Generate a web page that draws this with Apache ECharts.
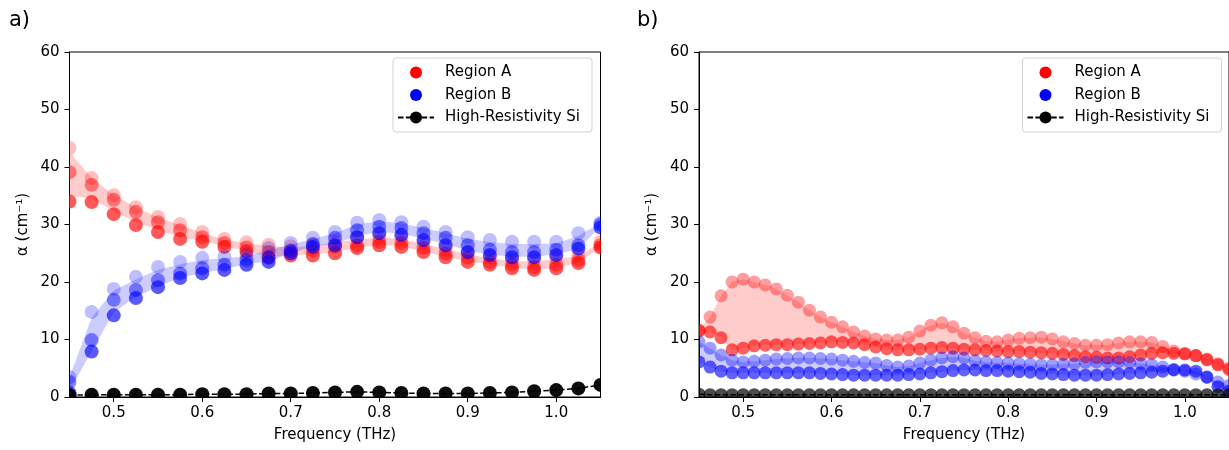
<!DOCTYPE html>
<html>
<head>
<meta charset="utf-8">
<script src="https://cdn.jsdelivr.net/npm/echarts@6/dist/echarts.min.js"></script>
<style>
  html, body { margin: 0; padding: 0; background: #fff; }
  #chart { width: 1229px; height: 450px; }
</style>
</head>
<body>
<div id="chart"></div>
<script>
// ---- panel a) : 0.025 THz sampling, three measurements per region ----
const freqA = [0.45, 0.475, 0.5, 0.525, 0.55, 0.575, 0.6, 0.625, 0.65, 0.675, 0.7, 0.725, 0.75,
  0.775, 0.8, 0.825, 0.85, 0.875, 0.9, 0.925, 0.95, 0.975, 1.0, 1.025, 1.05];

const regionA_a1 = [43.3, 38.1, 35.1, 33.0, 31.3, 30.1, 28.7, 27.5, 26.9, 26.5, 26.2, 26.5, 27.0,
  27.7, 27.8, 27.7, 26.8, 25.9, 25.0, 24.3, 23.8, 23.8, 24.2, 24.7, 27.0];
const regionA_a2 = [39.1, 36.9, 34.3, 32.2, 30.4, 29.0, 27.8, 26.8, 26.0, 25.2, 25.3, 25.5, 26.1,
  26.4, 27.0, 26.8, 25.9, 25.0, 24.2, 23.5, 23.0, 22.6, 23.0, 23.8, 26.4];
const regionA_a3 = [34.0, 33.9, 31.8, 29.9, 28.7, 27.5, 27.0, 26.1, 25.3, 24.2, 24.6, 24.6, 25.0,
  25.9, 26.4, 26.1, 25.2, 24.3, 23.5, 23.0, 22.4, 22.1, 22.4, 23.3, 26.0];

const regionB_a1 = [3.5, 14.8, 18.8, 20.9, 22.6, 23.5, 24.2, 24.4, 24.7, 25.9, 26.8, 27.7, 28.7,
  30.3, 30.8, 30.4, 29.6, 28.7, 27.8, 27.3, 27.0, 27.0, 27.0, 28.5, 30.3];
const regionB_a2 = [2.6, 9.9, 16.9, 18.6, 20.3, 21.5, 22.4, 23.0, 23.8, 24.3, 25.5, 26.6, 27.7,
  29.0, 29.6, 29.4, 28.5, 27.7, 26.4, 25.6, 25.2, 25.2, 25.6, 26.4, 30.0];
const regionB_a3 = [0.7, 7.9, 14.2, 17.2, 19.1, 20.7, 21.5, 22.1, 23.0, 23.5, 25.0, 26.1, 26.4,
  27.8, 28.5, 28.2, 27.3, 26.4, 25.2, 24.7, 24.3, 24.3, 24.7, 25.8, 29.5];

const siA = [0.3, 0.4, 0.4, 0.4, 0.4, 0.4, 0.5, 0.5, 0.5, 0.6, 0.6, 0.7, 0.8,
  0.9, 0.8, 0.7, 0.6, 0.6, 0.6, 0.7, 0.8, 1.0, 1.2, 1.5, 2.1];

// ---- panel b) : 0.0125 THz sampling, two measurements per region ----
const freqB = [0.45, 0.4625, 0.475, 0.4875, 0.5, 0.5125, 0.525, 0.5375, 0.55, 0.5625,
  0.575, 0.5875, 0.6, 0.6125, 0.625, 0.6375, 0.65, 0.6625, 0.675, 0.6875,
  0.7, 0.7125, 0.725, 0.7375, 0.75, 0.7625, 0.775, 0.7875, 0.8, 0.8125,
  0.825, 0.8375, 0.85, 0.8625, 0.875, 0.8875, 0.9, 0.9125, 0.925, 0.9375,
  0.95, 0.9625, 0.975, 0.9875, 1.0, 1.0125, 1.025, 1.0375, 1.05];

const regionA_b1 = [11.5, 13.9, 17.6, 20.0, 20.5, 20.0, 19.5, 18.8, 17.7, 16.5,
  15.1, 13.9, 13.0, 12.2, 11.3, 10.6, 10.1, 9.9, 9.9, 10.4,
  11.5, 12.5, 12.9, 12.2, 11.1, 10.3, 9.7, 9.6, 9.9, 10.2,
  10.3, 10.4, 10.1, 9.6, 9.3, 9.0, 9.0, 9.1, 9.4, 9.6,
  9.6, 9.5, 8.8, 8.0, 7.6, 7.2, 6.6, 5.8, 5.0];
const regionA_b2 = [11.6, 11.3, 10.3, 8.2, 8.5, 8.9, 9.0, 9.1, 9.1, 9.2,
  9.3, 9.4, 9.6, 9.5, 9.4, 9.1, 8.7, 8.4, 8.2, 8.2,
  8.3, 8.5, 8.6, 8.5, 8.3, 8.2, 8.1, 8.0, 7.9, 7.9,
  7.8, 7.7, 7.6, 7.4, 7.2, 7.0, 6.9, 6.8, 6.8, 7.0,
  7.3, 7.6, 7.7, 7.6, 7.5, 7.2, 6.5, 5.6, 4.8];

const regionB_b1 = [9.6, 8.5, 7.3, 6.4, 6.1, 6.2, 6.4, 6.6, 6.7, 6.8,
  6.8, 6.7, 6.6, 6.4, 6.2, 6.0, 5.9, 5.5, 5.2, 5.4,
  5.9, 6.4, 6.8, 7.0, 6.8, 6.3, 6.1, 6.0, 5.9, 5.8,
  5.7, 5.6, 5.6, 5.7, 5.8, 6.0, 6.1, 6.1, 6.1, 6.0,
  5.8, 5.6, 5.2, 4.8, 4.5, 4.0, 3.4, 2.6, 2.0];
const regionB_b2 = [6.1, 5.2, 4.5, 4.2, 4.2, 4.2, 4.2, 4.2, 4.2, 4.2,
  4.2, 4.1, 4.0, 3.9, 3.8, 3.8, 3.8, 3.8, 3.8, 3.9,
  4.0, 4.2, 4.4, 4.6, 4.7, 4.7, 4.6, 4.6, 4.5, 4.4,
  4.3, 4.1, 4.0, 3.9, 3.8, 3.8, 3.8, 3.9, 4.0, 4.1,
  4.2, 4.3, 4.5, 4.7, 4.7, 4.5, 3.5, 1.8, 1.0];

const siB = [0.5, 0.4, 0.4, 0.4, 0.4, 0.4, 0.4, 0.4, 0.4, 0.4,
  0.4, 0.4, 0.4, 0.4, 0.4, 0.4, 0.4, 0.4, 0.4, 0.4,
  0.4, 0.4, 0.4, 0.4, 0.4, 0.4, 0.4, 0.4, 0.4, 0.4,
  0.4, 0.4, 0.4, 0.4, 0.4, 0.4, 0.4, 0.4, 0.4, 0.4,
  0.4, 0.4, 0.4, 0.4, 0.4, 0.4, 0.4, 0.4, 0.4];

// ---- axes ----
const xTicks = [0.5, 0.6, 0.7, 0.8, 0.9, 1.0];
const xLabels = ['0.5', '0.6', '0.7', '0.8', '0.9', '1.0'];
const yMin = 0, yMax = 60, yStep = 10;
const seriesNames = ['Region A', 'Region B', 'High-Resistivity Si'];
const panelTags = ['a)', 'b)'];

const FONT = '"DejaVu Sans", sans-serif';
const RED = '255,0,0', BLUE = '0,0,255', BLACK = '0,0,0';

// circles drawn through the axes, clipped to the plot area
function dots(name, gi, xs, ys, rgb, alpha, r) {
  return {
    type: 'custom', name, xAxisIndex: gi, yAxisIndex: gi, clip: true, silent: true,
    itemStyle: { color: 'rgb(' + rgb + ')' },
    data: xs.map((x, i) => [x, ys[i]]),
    renderItem: (params, api) => {
      const p = api.coord([api.value(0), api.value(1)]);
      return { type: 'circle', shape: { cx: p[0], cy: p[1], r },
        style: { fill: 'rgba(' + rgb + ',' + alpha + ')' } };
    }
  };
}

// shaded spread (mean ± std of the measurements)
function band(name, gi, xs, sets, rgb, alpha) {
  const n = sets.length;
  const mean = xs.map((_, i) => sets.reduce((s, a) => s + a[i], 0) / n);
  const sd = xs.map((_, i) => Math.sqrt(sets.reduce((s, a) => s + (a[i] - mean[i]) ** 2, 0) / n));
  return {
    type: 'custom', name, xAxisIndex: gi, yAxisIndex: gi, clip: true, silent: true,
    itemStyle: { color: 'rgb(' + rgb + ')' },
    data: [[xs[0], mean[0]]],
    renderItem: (params, api) => {
      const pts = [];
      xs.forEach((x, i) => pts.push(api.coord([x, mean[i] + sd[i]])));
      for (let i = xs.length - 1; i >= 0; i--) pts.push(api.coord([xs[i], mean[i] - sd[i]]));
      return { type: 'polygon', shape: { points: pts }, style: { fill: 'rgba(' + rgb + ',' + alpha + ')' } };
    }
  };
}

function siLine(gi, xs, ys) {
  return {
    type: 'line', name: seriesNames[2], xAxisIndex: gi, yAxisIndex: gi, clip: true, silent: true,
    data: xs.map((x, i) => [x, ys[i]]), symbol: 'circle', showSymbol: false,
    itemStyle: { color: '#000' },
    lineStyle: { color: '#000', width: 1.5, type: [5.5, 2.4] }
  };
}

function legendProxy(name, rgb) {
  return {
    type: 'line', name, xAxisIndex: 0, yAxisIndex: 0, data: [], symbol: 'circle',
    itemStyle: { color: 'rgb(' + rgb + ')' },
    lineStyle: { width: 0, color: 'rgba(0,0,0,0)' }
  };
}

const axisText = { fontFamily: FONT, fontSize: 15, color: '#000' };

function xAxis(gi) {
  return {
    type: 'value', gridIndex: gi, min: 0.45, max: 1.05,
    name: 'Frequency (THz)', nameLocation: 'middle', nameGap: 31, nameTextStyle: axisText,
    axisLine: { show: true, onZero: false, lineStyle: { color: '#000', width: 1 } },
    axisTick: { show: true, length: 5, customValues: xTicks, lineStyle: { color: '#000', width: 1 } },
    axisLabel: { customValues: xTicks, margin: 9, ...axisText,
      formatter: v => xLabels[xTicks.findIndex(t => Math.abs(t - v) < 1e-9)] },
    splitLine: { show: false }
  };
}
function yAxis(gi) {
  return {
    type: 'value', gridIndex: gi, min: yMin, max: yMax, interval: yStep,
    name: 'α (cm⁻¹)', nameLocation: 'middle', nameGap: 39, nameRotate: 90, nameTextStyle: axisText,
    axisLine: { show: true, onZero: false, lineStyle: { color: '#000', width: 1 } },
    axisTick: { show: true, length: 5, lineStyle: { color: '#000', width: 1 } },
    axisLabel: { margin: 10, ...axisText },
    splitLine: { show: false }
  };
}

function legend(left) {
  return {
    left, top: 58, orient: 'vertical', data: seriesNames, selectedMode: false,
    itemWidth: 36, itemHeight: 15, itemGap: 7.5, padding: [7, 12, 7, 4],
    backgroundColor: 'rgba(255,255,255,0.8)', borderColor: '#d3d3d3', borderWidth: 1, borderRadius: 3,
    textStyle: { ...axisText, lineHeight: 15, padding: [0, 0, 0, 6] }
  };
}

const RA = 7, RB = 6.5;
const series = [
  legendProxy(seriesNames[0], RED),
  legendProxy(seriesNames[1], BLUE),
  // panel a
  band(seriesNames[0], 0, freqA, [regionA_a1, regionA_a2, regionA_a3], RED, 0.2),
  dots(seriesNames[0], 0, freqA, regionA_a1, RED, 0.25, RA),
  dots(seriesNames[0], 0, freqA, regionA_a2, RED, 0.45, RA),
  dots(seriesNames[0], 0, freqA, regionA_a3, RED, 0.65, RA),
  band(seriesNames[1], 0, freqA, [regionB_a1, regionB_a2, regionB_a3], BLUE, 0.2),
  dots(seriesNames[1], 0, freqA, regionB_a1, BLUE, 0.25, RA),
  dots(seriesNames[1], 0, freqA, regionB_a2, BLUE, 0.45, RA),
  dots(seriesNames[1], 0, freqA, regionB_a3, BLUE, 0.65, RA),
  siLine(0, freqA, siA),
  dots(seriesNames[2], 0, freqA, siA, BLACK, 0.95, RA),
  // panel b
  band(seriesNames[0], 1, freqB, [regionA_b1, regionA_b2], RED, 0.2),
  dots(seriesNames[0], 1, freqB, regionA_b1, RED, 0.38, RB),
  dots(seriesNames[0], 1, freqB, regionA_b2, RED, 0.62, RB),
  band(seriesNames[1], 1, freqB, [regionB_b1, regionB_b2], BLUE, 0.2),
  dots(seriesNames[1], 1, freqB, regionB_b1, BLUE, 0.38, RB),
  dots(seriesNames[1], 1, freqB, regionB_b2, BLUE, 0.62, RB),
  siLine(1, freqB, siB),
  dots(seriesNames[2], 1, freqB, siB, BLACK, 0.7, RB)
];

const chart = echarts.init(document.getElementById('chart'), null, { renderer: 'canvas' });
chart.setOption({
  animation: false,
  backgroundColor: '#fff',
  grid: [
    { left: 69.5, top: 52, width: 531, height: 345, show: true, borderColor: '#000', borderWidth: 1 },
    { left: 699, top: 52, width: 531, height: 345, show: true, borderColor: '#000', borderWidth: 1 }
  ],
  xAxis: [xAxis(0), xAxis(1)],
  yAxis: [yAxis(0), yAxis(1)],
  legend: [legend(393), legend(1022.5)],
  graphic: [
    { type: 'text', left: 9, top: 10, style: { text: panelTags[0], font: '21px ' + FONT, fill: '#000' } },
    { type: 'text', left: 637, top: 10, style: { text: panelTags[1], font: '21px ' + FONT, fill: '#000' } }
  ],
  series
});
</script>
</body>
</html>
